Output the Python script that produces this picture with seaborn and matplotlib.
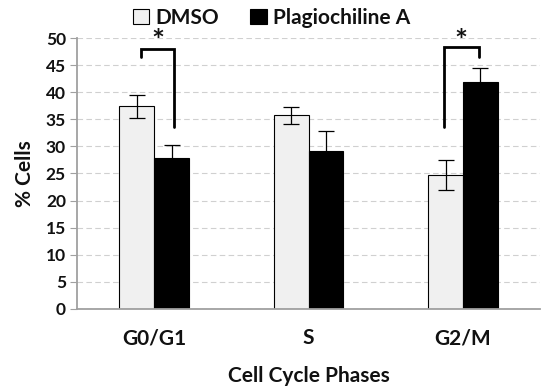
import numpy as np
import pandas as pd
import matplotlib
matplotlib.use("Agg")
import matplotlib.pyplot as plt
import seaborn as sns

# data
phases = ["G0/G1", "S", "G2/M"]
treatments = ["DMSO", "Plagiochiline A"]
dmso_mean = [37.4, 35.7, 24.7]
dmso_err = [2.1, 1.6, 2.8]
plag_mean = [27.9, 29.2, 41.8]
plag_err = [2.4, 3.7, 2.7]
colors = ["#f0f0f0", "#000000"]
yticks = list(range(0, 51, 5))

# significance brackets: (phase index, left x offset, right x offset, left bottom, top, right bottom)
brackets = [
    (0, 0.03, 0.015, 46.5, 48.0, 33.6),
    (2, -0.01, -0.01, 33.6, 48.3, 46.5),
]

df = pd.DataFrame({
    "phase": phases * 2,
    "treatment": [treatments[0]] * 3 + [treatments[1]] * 3,
    "pct": dmso_mean + plag_mean,
})

sns.set_style("white")
plt.rcParams["font.family"] = ["Lato", "DejaVu Sans"]
plt.rcParams["font.weight"] = "bold"
plt.rcParams["text.color"] = "#111111"
plt.rcParams["xtick.labelcolor"] = "#111111"
plt.rcParams["ytick.labelcolor"] = "#111111"
plt.rcParams["axes.labelcolor"] = "#111111"

fig = plt.figure(figsize=(5.5, 3.92), dpi=100)
ax = fig.add_axes([0.14, 0.212, 0.842, 0.691])
ax.yaxis.grid(True, linestyle=(0, (5, 3)), color="#d0d0d0", lw=0.8)
ax.set_axisbelow(True)

sns.barplot(data=df, x="phase", y="pct", hue="treatment", palette=colors,
            width=0.45, edgecolor="black", linewidth=0.8, errorbar=None, ax=ax)

# error bars
for cont, errs in zip(ax.containers, [dmso_err, plag_err]):
    for bar, e in zip(cont, errs):
        x = bar.get_x() + bar.get_width() / 2
        ax.errorbar(x, bar.get_height(), yerr=e, color="black", capsize=5.5,
                    lw=0.9, capthick=0.9, zorder=3)

# brackets and stars
dmso_bars = ax.containers[0]
plag_bars = ax.containers[1]
for i, lo, ro, lb, top, rb in brackets:
    xl = dmso_bars[i].get_x() + dmso_bars[i].get_width() / 2 + lo
    xr = plag_bars[i].get_x() + plag_bars[i].get_width() / 2 + ro
    ax.plot([xl, xl, xr, xr], [lb, top, top, rb], color="black", lw=2,
            solid_joinstyle="miter", zorder=4, clip_on=False)
    ax.text((xl + xr) / 2, 49.3, "*", ha="center", va="center", fontsize=22,
            fontweight="bold", clip_on=False)

ax.set_ylim(0, 50)
ax.set_xlim(-0.5, 2.5)
ax.set_yticks(yticks)
ax.tick_params(axis="y", length=5, color="#a0a0a0", direction="out", left=True,
               labelsize=12.5, pad=3)
ax.tick_params(axis="x", length=0, labelsize=15, pad=14)
for s in ["top", "right"]:
    ax.spines[s].set_visible(False)
for s in ["left", "bottom"]:
    ax.spines[s].set_color("#a0a0a0")
    ax.spines[s].set_linewidth(1.3)

ax.set_xlabel("Cell Cycle Phases", fontsize=15, fontweight="bold", labelpad=13)
ax.set_ylabel("% Cells", fontsize=15, fontweight="bold", labelpad=8)

handles, labels = ax.get_legend_handles_labels()
ax.legend(handles, labels, loc="center", bbox_to_anchor=(0.42, 1.075), ncol=2,
          frameon=False, fontsize=15, handlelength=0.8, handleheight=0.8,
          handletextpad=0.3, columnspacing=1.5, borderaxespad=0)

fig.savefig("out.png", dpi=100)
